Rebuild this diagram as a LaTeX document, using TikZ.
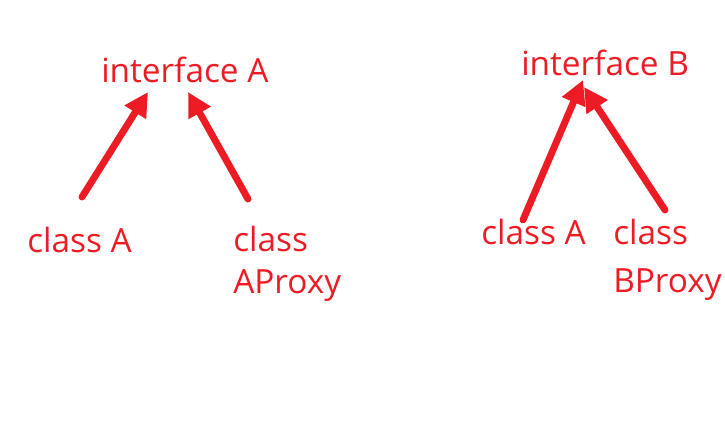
\documentclass[tikz,border=0pt]{standalone}
\usepackage{fontspec}
\setmainfont{Open Sans}
\usepackage{xcolor}
\usetikzlibrary{arrows.meta}
\definecolor{umlred}{RGB}{237,28,36}

\begin{document}
\begin{tikzpicture}[x=0.75pt,y=-0.75pt,
            lbl/.style={anchor=base west, inner sep=0pt, text=umlred, font=\fontsize{25}{31}\selectfont, align=left},
            impl/.style={draw=umlred, line width=5.2pt, line cap=round, -{Triangle[length=18pt,width=18pt]}}]
				\useasboundingbox (0,0) rectangle (725,440);

				% left group
				\node[lbl] (ifA) at (101,82) {interface A};
				\node[lbl] (clsA) at (27,252) {class A};
				\node[lbl] (prxA) at (233,293) {class\\AProxy};

				% right group
				\node[lbl] (ifB) at (521,75) {interface B};
				\node[lbl] (clsB) at (481,244) {class A};
				\node[lbl, font=\fontsize{25}{36}\selectfont] (prxB) at (613,292) {class\\BProxy};

				\coordinate (ifAl) at (148,92);
				\coordinate (ifAr) at (188,92);
				\coordinate (clsAt) at (82,197);
				\coordinate (prxAt) at (248,199);
				\coordinate (ifBl) at (583,80);
				\coordinate (ifBr) at (584,87);
				\coordinate (clsBt) at (523,220);
				\coordinate (prxBt) at (665,210);

				\draw[impl] (clsAt) -- (ifAl);
				\draw[impl] (prxAt) -- (ifAr);
				\draw[impl] (clsBt) -- (ifBl);
				\draw[impl] (prxBt) -- (ifBr);
 		\end{tikzpicture}
\end{document}
